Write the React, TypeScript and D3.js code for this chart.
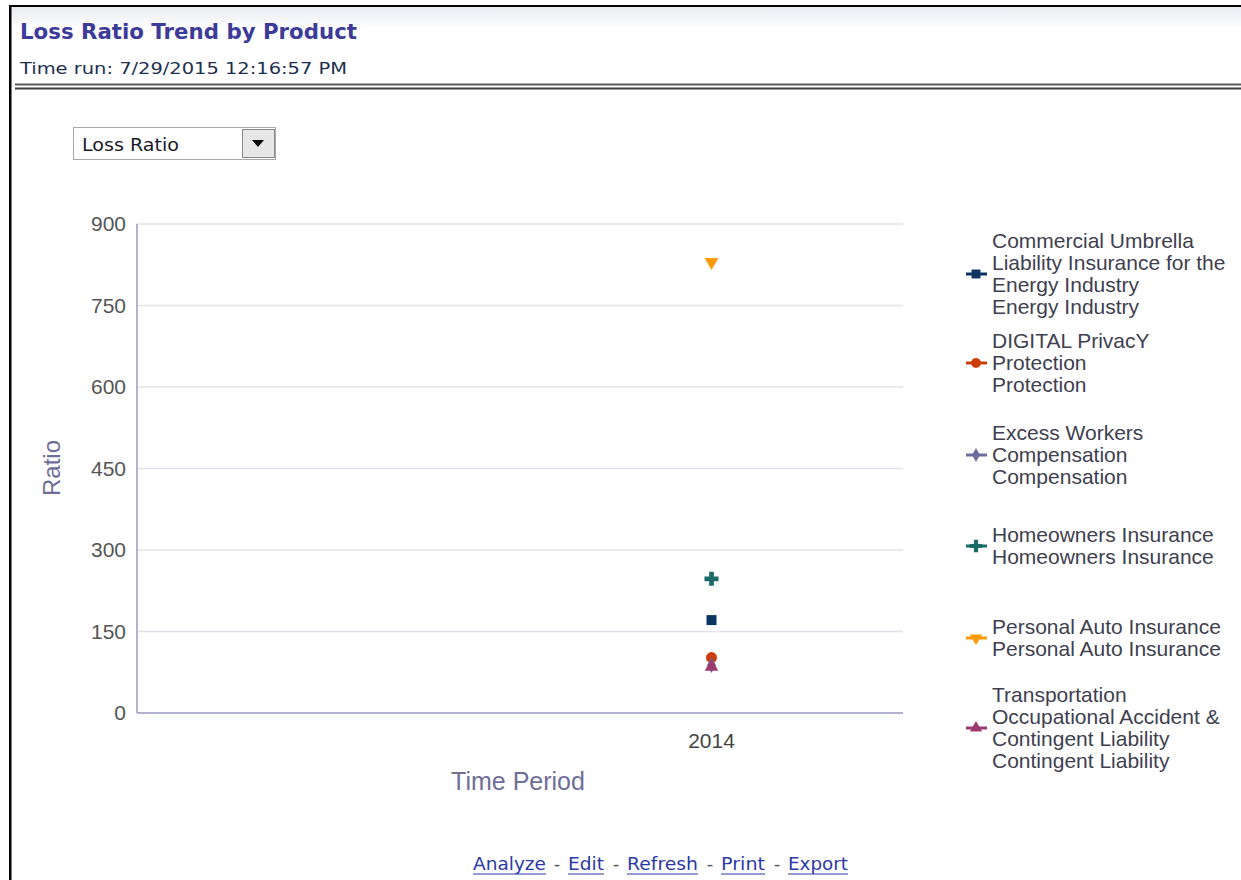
import React from "react";
import * as d3 from "d3";

const periods: string[] = ["2014"];
const products: string[] = [
  "Commercial Umbrella Liability Insurance for the Energy Industry",
  "DIGITAL PrivacY Protection",
  "Excess Workers Compensation",
  "Homeowners Insurance",
  "Personal Auto Insurance",
  "Transportation Occupational Accident & Contingent Liability",
];
const legendLines: string[][] = [
  ["Commercial Umbrella", "Liability Insurance for the", "Energy Industry", "Energy Industry"],
  ["DIGITAL PrivacY", "Protection", "Protection"],
  ["Excess Workers", "Compensation", "Compensation"],
  ["Homeowners Insurance", "Homeowners Insurance"],
  ["Personal Auto Insurance", "Personal Auto Insurance"],
  ["Transportation", "Occupational Accident &", "Contingent Liability", "Contingent Liability"],
];
const lossRatio2014: number[] = [171, 102, 88, 247, 830, 85];
const yTicks: number[] = [0, 150, 300, 450, 600, 750, 900];
const colors: string[] = ["#0b3463", "#cc3d0c", "#6d6d9f", "#1b6b68", "#ff9a0a", "#9b3a6e"];
const shapes = [d3.symbolSquare, d3.symbolCircle, d3.symbolDiamond, d3.symbolCross, d3.symbolTriangle, d3.symbolTriangle];
const shapeSizes: number[] = [100, 95, 70, 110, 85, 80];
const rotations: number[] = [0, 0, 0, 0, 180, 0];
const legendTops: number[] = [241, 341, 433, 535, 627, 695];
const footerLinks: { label: string; x: number; w: number }[] = [
  { label: "Analyze", x: 473, w: 73 },
  { label: "Edit", x: 568, w: 36 },
  { label: "Refresh", x: 627, w: 71 },
  { label: "Print", x: 721, w: 44 },
  { label: "Export", x: 788, w: 60 },
];

export default function App() {
  const W = 1241, H = 880;
  const left = 137, right = 903, top = 224, bottom = 713;
  const y = d3.scaleLinear().domain([0, 900]).range([bottom, top]);
  const x = d3.scalePoint<string>().domain(periods).range([left, right]).padding(0).align(0.75);
  const sym = (i: number) => d3.symbol().type(shapes[i]).size(shapeSizes[i])()!;
  const chartFont = "'Liberation Sans', Arial, sans-serif";
  const tahoma = "'DejaVu Sans', Verdana, sans-serif";

  return (
    <svg width={W} height={H} style={{ position: "absolute", left: 0, top: 0, background: "#fff" }}>
      <defs>
        <linearGradient id="hdr" x1="0" y1="0" x2="0" y2="1">
          <stop offset="0" stopColor="#e9ebf0" />
          <stop offset="1" stopColor="#ffffff" />
        </linearGradient>
      </defs>
      <rect x={0} y={0} width={W} height={H} fill="#fff" />
      <rect x={11} y={7} width={W - 11} height={22} fill="url(#hdr)" />
      {/* borders */}
      <rect x={9} y={5} width={W - 9} height={2} fill="#000" />
      <rect x={9} y={5} width={2.5} height={H - 5} fill="#000" />
      {/* title */}
      <text x={20} y={39} fontFamily={tahoma} fontWeight="bold" fontSize={21} fill="#3d3b9a"
        textLength={337} lengthAdjust="spacingAndGlyphs">Loss Ratio Trend by Product</text>
      <text x={20} y={74} fontFamily={tahoma} fontSize={16.5} fill="#1d2f4f"
        textLength={327} lengthAdjust="spacingAndGlyphs">Time run: 7/29/2015 12:16:57 PM</text>
      <rect x={15} y={83.5} width={W - 15} height={2} fill="#5a5a5a" />
      <rect x={15} y={87.5} width={W - 15} height={2} fill="#3e3e3e" />
      {/* dropdown */}
      <rect x={73.5} y={127.5} width={202} height={32} fill="#fff" stroke="#a8a8a8" />
      <text x={82} y={151} fontFamily={tahoma} fontSize={17} fill="#1a1a2a"
        textLength={97} lengthAdjust="spacingAndGlyphs">Loss Ratio</text>
      <rect x={242.5} y={129.5} width={32} height={28} fill="#e6e6e6" stroke="#8a8a8a" />
      <path d="M252,140 L264,140 L258,147 Z" fill="#000" />
      {/* grid */}
      {yTicks.map((t) => (
        <g key={t}>
          {t > 0 && <line x1={left} x2={right} y1={y(t)} y2={y(t)} stroke="#e2e2ea" strokeWidth={1.5} />}
          <text x={126} y={y(t) + 7} textAnchor="end" fontFamily={chartFont} fontSize={21} fill="#555">{t}</text>
        </g>
      ))}
      <line x1={left} x2={left} y1={top} y2={bottom} stroke="#9a9ac2" strokeWidth={1.5} />
      <line x1={left} x2={right} y1={bottom} y2={bottom} stroke="#9a9ac2" strokeWidth={1.5} />
      {periods.map((p) => (
        <text key={p} x={x(p)} y={748} textAnchor="middle" fontFamily={chartFont} fontSize={21} fill="#444">{p}</text>
      ))}
      <text x={518} y={790} textAnchor="middle" fontFamily={chartFont} fontSize={25} fill="#6e6e98">Time Period</text>
      <text transform="translate(60,468) rotate(-90)" textAnchor="middle" fontFamily={chartFont} fontSize={24} fill="#6e6e98">Ratio</text>
      {/* points */}
      {products.map((name, i) => (
        <path key={name} d={sym(i)} fill={colors[i]}
          transform={`translate(${x(periods[0])},${y(lossRatio2014[i])}) rotate(${rotations[i]})`} />
      ))}
      {/* legend */}
      {products.map((name, i) => {
        const lines = legendLines[i];
        const mid = legendTops[i] + ((lines.length - 1) * 22) / 2;
        return (
          <g key={name}>
            <line x1={966} x2={987} y1={mid} y2={mid} stroke={colors[i]} strokeWidth={3} />
            <path d={d3.symbol().type(shapes[i]).size(shapeSizes[i] * 0.8)()!} fill={colors[i]}
              transform={`translate(976,${mid}) rotate(${rotations[i]})`} />
            {lines.map((ln, j) => (
              <text key={j} x={992} y={legendTops[i] + j * 22 + 7} fontFamily={chartFont} fontSize={21} fill="#404050">{ln}</text>
            ))}
          </g>
        );
      })}
      {/* footer */}
      {footerLinks.map((f, i) => (
        <g key={f.label}>
          {i > 0 && <text x={f.x - 11} y={870} fontFamily={tahoma} fontSize={18} fill="#555" textAnchor="middle">-</text>}
          <text x={f.x} y={870} fontFamily={tahoma} fontSize={18} fill="#2b3aa8"
            textLength={f.w} lengthAdjust="spacingAndGlyphs">{f.label}</text>
          <line x1={f.x} x2={f.x + f.w} y1={874} y2={874} stroke="#2b3aa8" strokeWidth={1.2} />
        </g>
      ))}
    </svg>
  );
}
